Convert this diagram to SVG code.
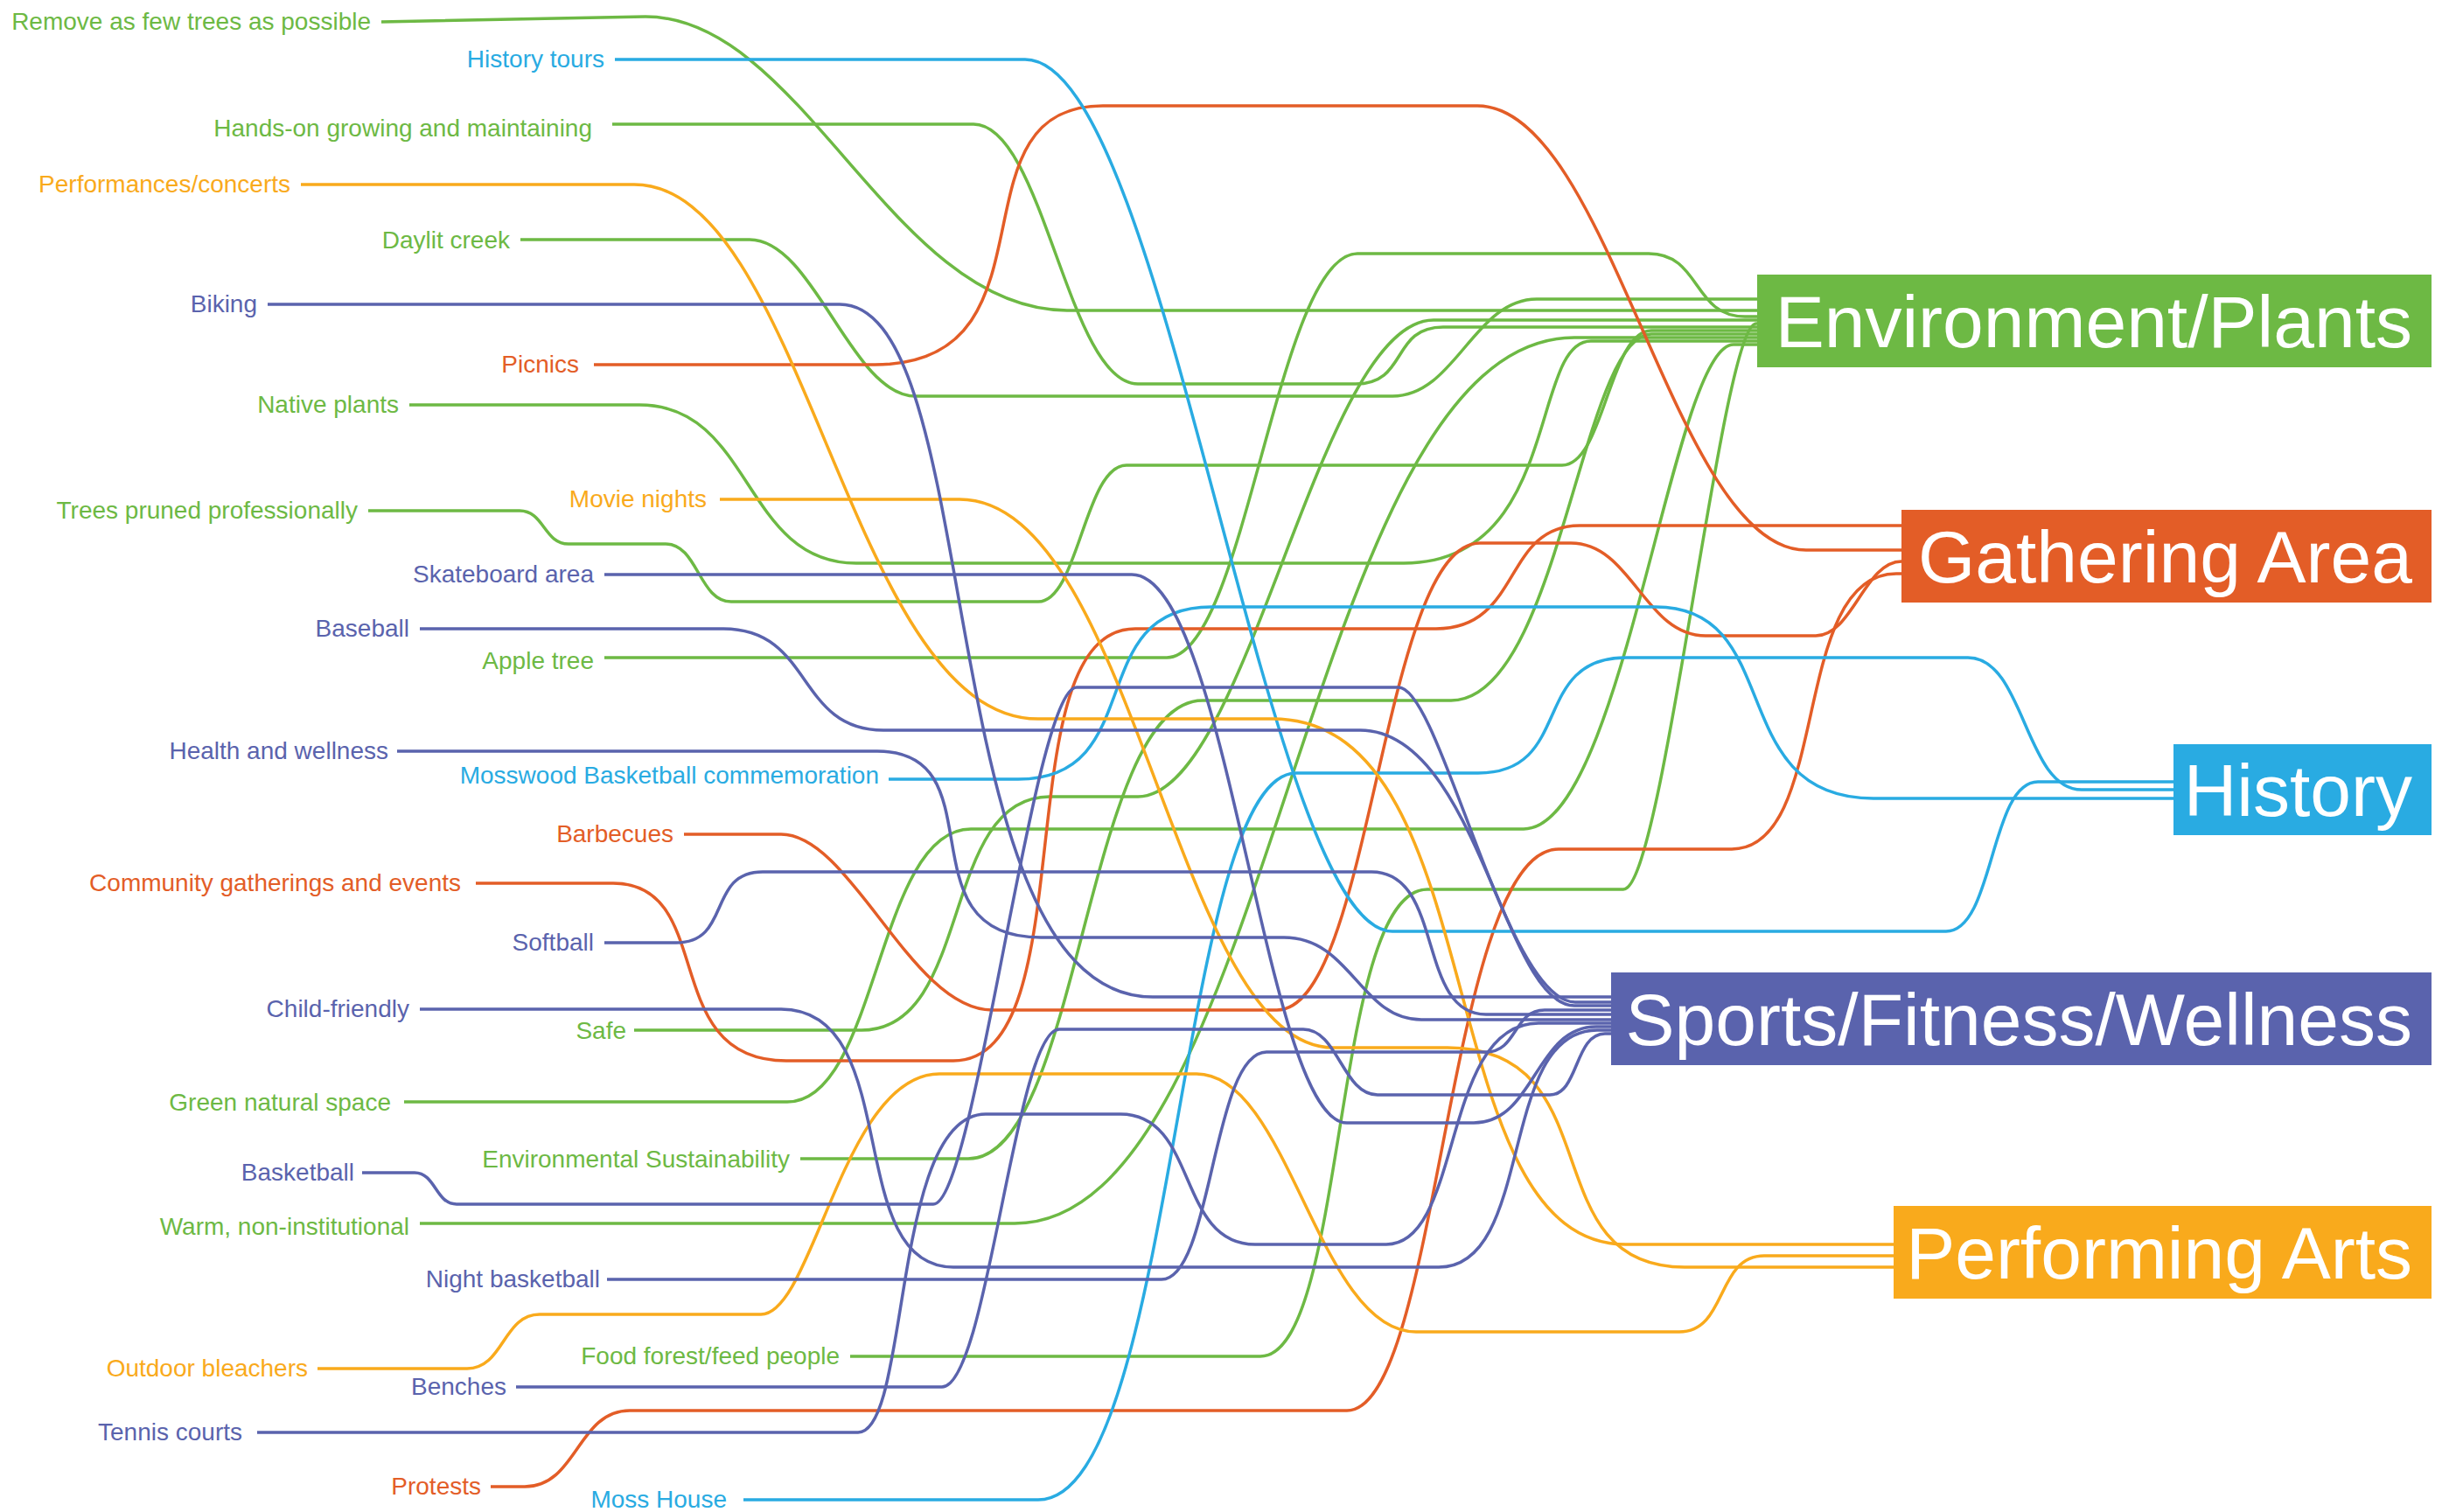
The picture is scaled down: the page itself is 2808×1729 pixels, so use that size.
<svg xmlns="http://www.w3.org/2000/svg" width="2808" height="1729" viewBox="0 0 2808 1729">
<style>
.l{fill:none;stroke-width:3.5;stroke-linecap:butt}
.g{stroke:#6DB944}.r{stroke:#E35D27}.b{stroke:#29ABE2}.p{stroke:#5A63AD}.o{stroke:#F9AA1C}
text{font-family:"Liberation Sans",Arial,sans-serif}
.t{font-size:28px;text-anchor:end}
.tg{fill:#6DB944}.tr{fill:#E35D27}.tb{fill:#29ABE2}.tp{fill:#5A63AD}.to{fill:#F9AA1C}
.c{font-size:84px;fill:#fff;text-anchor:end}
</style>
<rect width="2808" height="1729" fill="#fff"/>
<g id="connectors">
<path class="l g" d="M436,25 L738,19 C918,19 1020,355 1220,355 H2012"/>
<path class="l g" d="M700,142 H1113 C1193,142 1221,439 1301,439 H1550 C1610,439 1590,374 1650,374 H2012"/>
<path class="l g" d="M595,274 H857 C931,274 973,453 1047,453 H1592 C1664,453 1685,342 1757,342 H2012"/>
<path class="l g" d="M468,463 H731 C861,463 849,644 979,644 H1605 C1785,644 1749,390 1819,390 H2012"/>
<path class="l g" d="M421,584 H594 C622,584 622,622 650,622 H761 C798,622 799,688 836,688 H1187 C1233,688 1240,532 1288,532 H1786 C1834,532 1840,378 1888,378 H2012"/>
<path class="l g" d="M691,752 H1334 C1424,752 1460,290 1552,290 H1885 C1945,290 1935,362 1995,362 H2012"/>
<path class="l g" d="M725,1178 H985 C1113,1178 1074,911 1200,911 H1301 C1427,911 1507,366 1639,366 H2012"/>
<path class="l g" d="M462,1260 H900 C1004,1260 1002,948 1110,948 H1742 C1856,948 1912,394 1982,394 H2012"/>
<path class="l g" d="M915,1325 H1107 C1235,1325 1241,801 1375,801 H1659 C1783,801 1808,382 1888,382 H2012"/>
<path class="l g" d="M480,1399 H1160 C1458,1399 1490,386 1800,386 H2012"/>
<path class="l g" d="M972,1551 H1441 C1541,1551 1522,1017 1632,1017 H1856 C1902,1017 1968,370 2008,370 H2012"/>
<path class="l r" d="M679,417 H1000 C1218,417 1081,121 1261,121 H1689 C1841,121 1913,629 2065,629 H2177"/>
<path class="l r" d="M782,954 H893 C973,954 1042,1155 1134,1155 H1460 C1568,1155 1580,621 1692,621 H1796 C1866,621 1880,727 1950,727 H2076 C2118,727 2132,642 2174,642 H2177"/>
<path class="l r" d="M544,1010 H701 C821,1010 751,1213 899,1213 H1090 C1244,1213 1146,719 1298,719 H1642 C1740,719 1718,601 1806,601 H2177"/>
<path class="l r" d="M561,1700 H600 C660,1700 660,1613 720,1613 H1540 C1646,1613 1654,971 1782,971 H1980 C2094,971 2046,656 2168,656 H2177"/>
<path class="l b" d="M703,68 H1172 C1334,68 1446,1065 1592,1065 H2225 C2280,1065 2275,894 2330,894 H2488"/>
<path class="l b" d="M1016,891 H1164 C1314,891 1237,694 1385,694 H1893 C2043,694 1970,913 2142,913 H2488"/>
<path class="l b" d="M850,1715 H1187 C1345,1715 1346,884 1482,884 H1690 C1800,884 1749,752 1859,752 H2250 C2315,752 2315,903 2380,903 H2488"/>
<path class="l o" d="M344,211 H725 C921,211 971,822 1187,822 H1455 C1711,822 1631,1423 1859,1423 H2168"/>
<path class="l o" d="M823,571 H1097 C1297,571 1344,1198 1524,1198 H1655 C1845,1198 1750,1449 1926,1449 H2168"/>
<path class="l o" d="M363,1565 H534 C576,1565 575,1503 617,1503 H870 C930,1503 964,1228 1074,1228 H1368 C1474,1228 1507,1523 1619,1523 H1920 C1975,1523 1962,1436 2017,1436 H2168"/>
<path class="l p" d="M306,348 H960 C1130,348 1062,1140 1318,1140 H1845"/>
<path class="l p" d="M691,657 H1294 C1404,657 1446,1284 1540,1284 H1685 C1755,1284 1755,1174 1825,1174 H1845"/>
<path class="l p" d="M480,719 H827 C930,719 910,835 1010,835 H1555 C1689,835 1720,1150 1800,1150 H1845"/>
<path class="l p" d="M454,859 H1003 C1143,859 1029,1072 1190,1072 H1468 C1545,1072 1555,1166 1625,1166 H1845"/>
<path class="l p" d="M691,1078 H773 C837,1078 808,997 872,997 H1568 C1652,997 1619,1160 1699,1160 H1845"/>
<path class="l p" d="M480,1154 H893 C1035,1154 962,1449 1090,1449 H1645 C1755,1449 1712,1178 1826,1178 H1845"/>
<path class="l p" d="M414,1341 H474 C498,1341 498,1377 522,1377 H1067 C1115,1377 1181,786 1231,786 H1599 C1647,786 1721,1146 1801,1146 H1845"/>
<path class="l p" d="M694,1463 H1328 C1386,1463 1386,1203 1448,1203 H1699 C1735,1203 1730,1155 1766,1155 H1845"/>
<path class="l p" d="M590,1586 H1077 C1129,1586 1161,1177 1211,1177 H1490 C1530,1177 1535,1252 1575,1252 H1772 C1805,1252 1800,1182 1835,1182 H1845"/>
<path class="l p" d="M294,1638 H981 C1041,1638 1019,1274 1127,1274 H1281 C1370,1274 1345,1423 1435,1423 H1585 C1673,1423 1647,1170 1759,1170 H1845"/>
</g>
<g id="cat-environment"><rect x="2009" y="314" width="771" height="106" fill="#6DB944"/><text class="c" x="2758" y="397">Environment/Plants</text></g>
<g id="cat-gathering"><rect x="2174" y="583" width="606" height="106" fill="#E35D27"/><text class="c" x="2758" y="666">Gathering Area</text></g>
<g id="cat-history"><rect x="2485" y="851" width="295" height="104" fill="#29ABE2"/><text class="c" x="2758" y="933">History</text></g>
<g id="cat-sports"><rect x="1842" y="1112" width="938" height="106" fill="#5A63AD"/><text class="c" x="2758" y="1195">Sports/Fitness/Wellness</text></g>
<g id="cat-performing"><rect x="2165" y="1379" width="615" height="106" fill="#F9AA1C"/><text class="c" x="2758" y="1462">Performing Arts</text></g>
<g id="n-remove"><text class="t tg" x="424" y="34">Remove as few trees as possible</text></g>
<g id="n-historytours"><text class="t tb" x="691" y="77">History tours</text></g>
<g id="n-handson"><text class="t tg" x="677" y="156">Hands-on growing and maintaining</text></g>
<g id="n-performances"><text class="t to" x="332" y="220">Performances/concerts</text></g>
<g id="n-daylit"><text class="t tg" x="583" y="284">Daylit creek</text></g>
<g id="n-biking"><text class="t tp" x="294" y="357">Biking</text></g>
<g id="n-picnics"><text class="t tr" x="662" y="426">Picnics</text></g>
<g id="n-native"><text class="t tg" x="456" y="472">Native plants</text></g>
<g id="n-trees"><text class="t tg" x="409" y="593">Trees pruned professionally</text></g>
<g id="n-movie"><text class="t to" x="808" y="580">Movie nights</text></g>
<g id="n-skate"><text class="t tp" x="679" y="666">Skateboard area</text></g>
<g id="n-baseball"><text class="t tp" x="468" y="728">Baseball</text></g>
<g id="n-apple"><text class="t tg" x="679" y="765">Apple tree</text></g>
<g id="n-health"><text class="t tp" x="444" y="868">Health and wellness</text></g>
<g id="n-mosswood"><text class="t tb" x="1005" y="896">Mosswood Basketball commemoration</text></g>
<g id="n-barbecues"><text class="t tr" x="770" y="963">Barbecues</text></g>
<g id="n-community"><text class="t tr" x="527" y="1019">Community gatherings and events</text></g>
<g id="n-softball"><text class="t tp" x="679" y="1087">Softball</text></g>
<g id="n-child"><text class="t tp" x="468" y="1163">Child-friendly</text></g>
<g id="n-safe"><text class="t tg" x="716" y="1188">Safe</text></g>
<g id="n-green"><text class="t tg" x="447" y="1270">Green natural space</text></g>
<g id="n-basketball"><text class="t tp" x="405" y="1350">Basketball</text></g>
<g id="n-envsus"><text class="t tg" x="903" y="1335">Environmental Sustainability</text></g>
<g id="n-warm"><text class="t tg" x="468" y="1412">Warm, non-institutional</text></g>
<g id="n-night"><text class="t tp" x="686" y="1472">Night basketball</text></g>
<g id="n-bleachers"><text class="t to" x="352" y="1574">Outdoor bleachers</text></g>
<g id="n-food"><text class="t tg" x="960" y="1560">Food forest/feed people</text></g>
<g id="n-benches"><text class="t tp" x="579" y="1595">Benches</text></g>
<g id="n-tennis"><text class="t tp" x="277" y="1647">Tennis courts</text></g>
<g id="n-protests"><text class="t tr" x="550" y="1709">Protests</text></g>
<g id="n-mosshouse"><text class="t tb" x="831" y="1724">Moss House</text></g>
</svg>
